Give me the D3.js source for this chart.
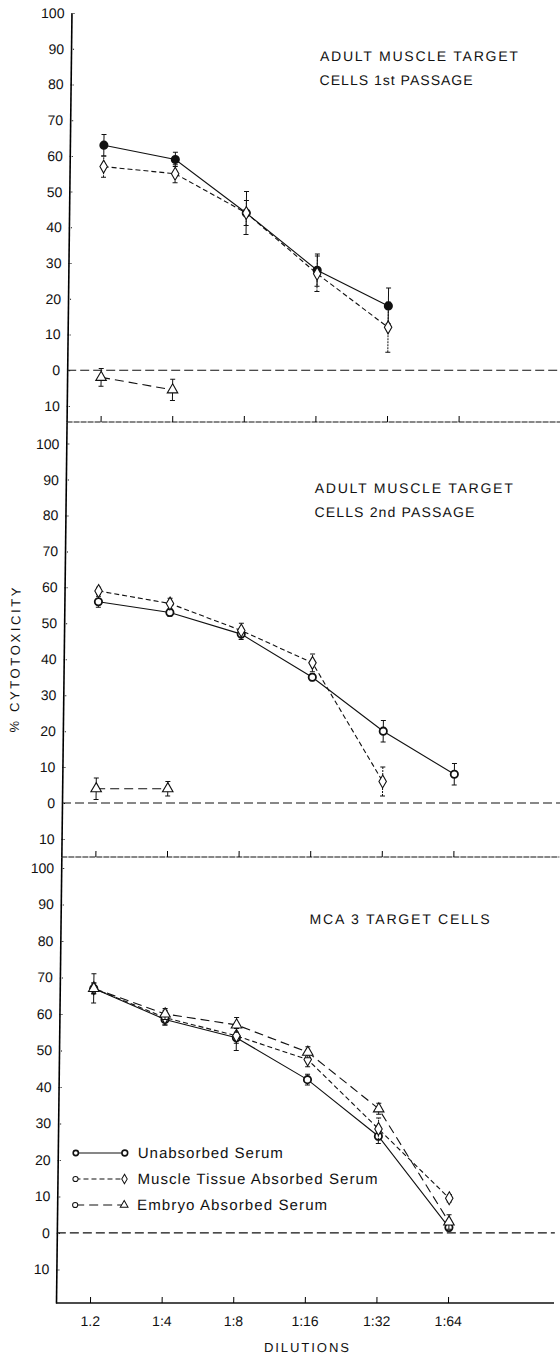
<!DOCTYPE html>
<html>
<head>
<meta charset="utf-8">
<script src="https://cdn.jsdelivr.net/npm/d3@7"></script>
<style>
  body { margin: 0; background: #fff; }
  svg { display: block; }
  text { font-family: "Liberation Sans", Arial, sans-serif; fill: #111; }
</style>
</head>
<body>
<div id="chart"></div>
<script>
// dilutions on the x axis
const dilutions = ["1.2", "1:4", "1:8", "1:16", "1:32", "1:64"];

// panel 1 : adult muscle target cells, 1st passage
const p1Unabsorbed = [63, 59, 44, 28, 18];
const p1UnabsorbedErr = [3, 2, 6, 4.5, 5];
const p1Muscle = [57, 55, 44, 27, 12];
const p1MuscleErr = [3, 2.5, 3.5, 5, 7];
const p1Embryo = [-2, -5.5];
const p1EmbryoErr = [2.5, 3];

// panel 2 : adult muscle target cells, 2nd passage
const p2Unabsorbed = [56, 53, 47, 35, 20, 8];
const p2UnabsorbedErr = [1.5, 1, 1.5, 1, 3, 3];
const p2Muscle = [59, 55.5, 48, 39, 6];
const p2MuscleErr = [1, 1.5, 2, 2.5, 4];
const p2Embryo = [4, 4];
const p2EmbryoErr = [3, 2];

// panel 3 : MCA 3 target cells
const p3Unabsorbed = [67, 58.5, 53.5, 42, 26.5, 1.5];
const p3UnabsorbedErr = [4, 1.5, 3.5, 1.5, 2, 1];
const p3Muscle = [67, 59, 54, 47.5, 28.5, 9.5];
const p3MuscleErr = [1.5, 2, 2, 2, 3, 1];
const p3Embryo = [67, 60, 57, 49.5, 34, 3];
const p3EmbryoErr = [1.5, 1.5, 2, 1.5, 1.5, 2];

const yTicks = [-10, 0, 10, 20, 30, 40, 50, 60, 70, 80, 90, 100];
const seriesNames = ["Unabsorbed Serum", "Muscle Tissue Absorbed Serum", "Embryo Absorbed Serum"];

const width = 560, height = 1357;
const axisX = 56, rightX = 554;
const slant = 0.012; // the scanned page is a little skewed

const svg = d3.select("#chart").append("svg")
    .attr("width", width)
    .attr("height", height);

const root = svg.append("g")
    .attr("transform", `translate(${slant * 1303},0) skewX(${-Math.atan(slant) * 180 / Math.PI})`);

const x = d3.scalePoint().domain(dilutions).range([90, 448]);

// line styles / markers per series
const styles = [
  { dash: null, symbol: d3.symbolCircle },
  { dash: "5,3", symbol: d3.symbolDiamond },
  { dash: "9,5", symbol: d3.symbolTriangle }
];

const panels = [
  { title: ["ADULT MUSCLE TARGET", "CELLS 1st PASSAGE"], titleLen: [198, 153], titleY: 61,
    domain: [-14.5, 100], range: [422, 13], filled: true, labels: false,
    series: [[p1Unabsorbed, p1UnabsorbedErr], [p1Muscle, p1MuscleErr], [p1Embryo, p1EmbryoErr]] },
  { title: ["ADULT MUSCLE TARGET", "CELLS 2nd PASSAGE"], titleLen: [198, 160], titleY: 493,
    domain: [-15, 106], range: [857, 422], filled: false, labels: false,
    series: [[p2Unabsorbed, p2UnabsorbedErr], [p2Muscle, p2MuscleErr], [p2Embryo, p2EmbryoErr]] },
  { title: ["MCA 3 TARGET CELLS"], titleLen: [180], titleY: 924,
    domain: [-19.2, 103], range: [1303, 857], filled: false, labels: true,
    series: [[p3Unabsorbed, p3UnabsorbedErr], [p3Muscle, p3MuscleErr], [p3Embryo, p3EmbryoErr]] }
];

panels.forEach(p => {
  const y = d3.scaleLinear().domain(p.domain).range(p.range);
  const g = root.append("g");

  // y axis
  const ticks = yTicks.filter(t => t >= p.domain[0] && t <= p.domain[1]);
  g.append("g")
      .attr("transform", `translate(${axisX},0)`)
      .call(d3.axisLeft(y).tickValues(ticks).tickSize(-4).tickSizeOuter(0).tickPadding(7)
        .tickFormat(d => Math.abs(d)))
      .call(a => a.select(".domain").attr("stroke-width", 1.6))
      .call(a => a.selectAll(".tick line").attr("stroke-dasharray", "1,1"))
      .call(a => a.selectAll("text").style("font-size", "14px").attr("fill", "#111"));

  // bottom line with small dilution ticks
  const yb = p.range[0];
  g.append("line")
      .attr("x1", axisX).attr("x2", rightX)
      .attr("y1", yb).attr("y2", yb)
      .attr("stroke", "#111")
      .attr("stroke-width", p.labels ? 1.4 : 1)
      .attr("stroke-dasharray", p.labels ? null : "6,1");
  g.append("g")
      .attr("transform", `translate(0,${yb})`)
      .call(d3.axisBottom(x).tickSize(-6).tickPadding(13)
        .tickFormat(d => p.labels ? d : ""))
      .call(a => a.select(".domain").remove())
      .call(a => a.selectAll("text").style("font-size", "14px").attr("fill", "#111"));

  // zero line
  g.append("line")
      .attr("x1", axisX).attr("x2", rightX)
      .attr("y1", y(0)).attr("y2", y(0))
      .attr("stroke", "#111")
      .attr("stroke-width", 1.1)
      .attr("stroke-dasharray", "9,4");

  // title
  p.title.forEach((t, i) => {
    g.append("text")
        .attr("x", 305)
        .attr("y", p.titleY + i * 24)
        .attr("textLength", p.titleLen[i])
        .attr("lengthAdjust", "spacing")
        .style("font-size", "14px")
        .text(t);
  });

  // series
  p.series.forEach(([vals, errs], si) => {
    const pts = vals.map((v, i) => ({ dil: dilutions[i], v: v, e: errs[i] }));
    const st = styles[si];

    g.append("path")
        .datum(pts)
        .attr("fill", "none")
        .attr("stroke", "#111")
        .attr("stroke-width", 1.1)
        .attr("stroke-dasharray", st.dash)
        .attr("d", d3.line().x(d => x(d.dil)).y(d => y(d.v)));

    const eb = g.append("g").selectAll("g")
        .data(pts)
        .join("g")
        .attr("stroke", "#111")
        .attr("stroke-width", 1);
    eb.append("line")
        .attr("x1", d => x(d.dil)).attr("x2", d => x(d.dil))
        .attr("y1", d => y(d.v - d.e)).attr("y2", d => y(d.v + d.e))
        .attr("stroke-dasharray", si === 1 ? "2,1" : null);
    eb.append("line")
        .attr("x1", d => x(d.dil) - 2.5).attr("x2", d => x(d.dil) + 2.5)
        .attr("y1", d => y(d.v + d.e)).attr("y2", d => y(d.v + d.e));
    eb.append("line")
        .attr("x1", d => x(d.dil) - 2.5).attr("x2", d => x(d.dil) + 2.5)
        .attr("y1", d => y(d.v - d.e)).attr("y2", d => y(d.v - d.e));

    g.append("g").selectAll("path")
        .data(pts)
        .join("path")
        .attr("transform", d => `translate(${x(d.dil)},${y(d.v)})`)
        .attr("d", d3.symbol().type(st.symbol).size(si === 0 ? 42 : 48))
        .attr("fill", si === 0 && p.filled ? "#111" : "#fff")
        .attr("stroke", "#111")
        .attr("stroke-width", si === 0 ? 1.8 : 1.1);
  });
});

// legend (inside bottom panel)
const legend = root.append("g");
seriesNames.forEach((name, i) => {
  const ly = 1153 + i * 26;
  const st = styles[i];
  legend.append("line")
      .attr("x1", 74).attr("x2", 123)
      .attr("y1", ly).attr("y2", ly)
      .attr("stroke", "#111")
      .attr("stroke-width", 1.1)
      .attr("stroke-dasharray", st.dash);
  legend.append("circle")
      .attr("cx", 74).attr("cy", ly).attr("r", 2.6)
      .attr("fill", "#fff").attr("stroke", "#111")
      .attr("stroke-width", i === 0 ? 1.6 : 1);
  legend.append("path")
      .attr("transform", `translate(123,${ly})`)
      .attr("d", d3.symbol().type(i === 0 ? d3.symbolCircle : st.symbol).size(26))
      .attr("fill", "#fff").attr("stroke", "#111")
      .attr("stroke-width", i === 0 ? 1.6 : 1);
  legend.append("text")
      .attr("x", 136)
      .attr("y", ly + 5)
      .attr("textLength", [145, 240, 190][i])
      .attr("lengthAdjust", "spacing")
      .style("font-size", "15px")
      .text(name);
});

// axis titles
root.append("text")
    .attr("x", 307)
    .attr("y", 1352)
    .attr("text-anchor", "middle")
    .attr("textLength", 85)
    .attr("lengthAdjust", "spacing")
    .style("font-size", "13px")
    .text("DILUTIONS");

root.append("text")
    .attr("transform", "translate(12,660) rotate(-90)")
    .attr("text-anchor", "middle")
    .attr("textLength", 145)
    .attr("lengthAdjust", "spacing")
    .style("font-size", "13px")
    .text("% CYTOTOXICITY");
</script>
</body>
</html>
